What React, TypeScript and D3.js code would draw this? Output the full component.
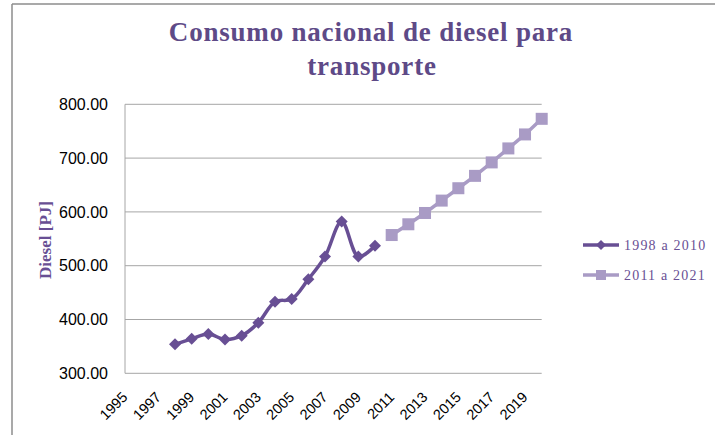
import React from "react";
import * as d3 from "d3";

// data
const years1 = [1998, 1999, 2000, 2001, 2002, 2003, 2004, 2005, 2006, 2007, 2008, 2009, 2010];
const diesel1 = [354, 364, 373, 363, 370, 394, 433, 438, 475, 517, 582, 517, 537];
const years2 = [2011, 2012, 2013, 2014, 2015, 2016, 2017, 2018, 2019, 2020];
const diesel2 = [557, 577, 598, 621, 644, 667, 692, 718, 744, 773];
const xTicks = [1995, 1997, 1999, 2001, 2003, 2005, 2007, 2009, 2011, 2013, 2015, 2017, 2019];
const yTicks = [300, 400, 500, 600, 700, 800];
const legendLabels = ["1998 a 2010", "2011 a 2021"];

const W = 715;
const H = 435;
const dark = "#684f94";
const light = "#a99bc5";
const titleColor = "#5e4a87";
const gridColor = "#a6a6a6";

const x = d3.scaleLinear().domain([1995, 2020]).range([125, 541.7]);
const y = d3.scaleLinear().domain([300, 800]).range([373.3, 104.3]);

const smoothLine = d3
  .line<number>()
  .x((_, i) => x(years1[i]))
  .y((d) => y(d))
  .curve(d3.curveCatmullRom);

const straightLine = d3
  .line<number>()
  .x((_, i) => x(years2[i]))
  .y((d) => y(d));

const diamond = (r: number) => `M0,${-r}L${r},0L0,${r}L${-r},0Z`;

export default function App() {
  const serif = "'Liberation Serif', 'DejaVu Serif', serif";
  const sans = "'Liberation Sans', Arial, sans-serif";

  return (
    <svg
      width={W}
      height={H}
      style={{ position: "absolute", left: 0, top: 0, background: "#fff" }}
    >
      {/* chart frame */}
      <line x1={12} y1={4} x2={W} y2={4} stroke="#8c8c8c" strokeWidth={1.5} />
      <line x1={12} y1={4} x2={12} y2={H} stroke="#8c8c8c" strokeWidth={1.5} />

      {/* title */}
      <text
        y={41}
        textAnchor="middle"
        fontFamily={serif}
        fontWeight="bold"
        fontSize={27}
        letterSpacing={0.8}
        fill={titleColor}
      >
        <tspan x={371}>Consumo nacional de diesel para</tspan>
        <tspan x={372} dy={34}>transporte</tspan>
      </text>

      {/* gridlines */}
      {yTicks.slice(1).map((t) => (
        <line key={t} x1={x(1995)} x2={x(2020)} y1={y(t)} y2={y(t)} stroke={gridColor} strokeWidth={1} />
      ))}
      {/* axes */}
      <line x1={x(1995)} x2={x(1995)} y1={y(800)} y2={y(300)} stroke={gridColor} strokeWidth={1} />
      <line x1={x(1995)} x2={x(2020)} y1={y(300)} y2={y(300)} stroke={gridColor} strokeWidth={1} />

      {/* y tick labels */}
      {yTicks.map((t) => (
        <text
          key={t}
          x={108}
          y={y(t)}
          dy="0.36em"
          textAnchor="end"
          fontFamily={sans}
          fontSize={16}
          fill="#000"
        >
          {d3.format(".2f")(t)}
        </text>
      ))}

      {/* x tick labels */}
      {xTicks.map((t) => (
        <text
          key={t}
          transform={`translate(${x(t) + 3.5},${398}) rotate(-45)`}
          textAnchor="end"
          fontFamily={sans}
          fontSize={14.5}
          fill="#000"
        >
          {t}
        </text>
      ))}

      {/* y axis title */}
      <text
        transform={`translate(51,240) rotate(-90)`}
        textAnchor="middle"
        fontFamily={serif}
        fontWeight="bold"
        fontSize={17}
        fill={dark}
      >
        Diesel [PJ]
      </text>

      {/* series 1 */}
      <path d={smoothLine(diesel1) || ""} fill="none" stroke={dark} strokeWidth={3.5} strokeLinejoin="round" />
      {diesel1.map((v, i) => (
        <path key={i} d={diamond(6)} transform={`translate(${x(years1[i])},${y(v)})`} fill={dark} />
      ))}

      {/* series 2 */}
      <path d={straightLine(diesel2) || ""} fill="none" stroke={light} strokeWidth={3.5} />
      {diesel2.map((v, i) => (
        <rect key={i} x={x(years2[i]) - 6} y={y(v) - 6} width={12} height={12} fill={light} />
      ))}

      {/* legend */}
      {legendLabels.map((label, i) => {
        const ly = 245 + i * 30;
        const c = i === 0 ? dark : light;
        return (
          <g key={label}>
            <line x1={583} x2={619} y1={ly} y2={ly} stroke={c} strokeWidth={3.5} />
            {i === 0 ? (
              <path d={diamond(5)} transform={`translate(601,${ly})`} fill={c} />
            ) : (
              <rect x={596} y={ly - 5} width={10} height={10} fill={c} />
            )}
            <text
              x={624}
              y={ly}
              dy="0.33em"
              fontFamily={serif}
              fontSize={14}
              letterSpacing={1.2}
              fill={dark}
            >
              {label}
            </text>
          </g>
        );
      })}
    </svg>
  );
}
